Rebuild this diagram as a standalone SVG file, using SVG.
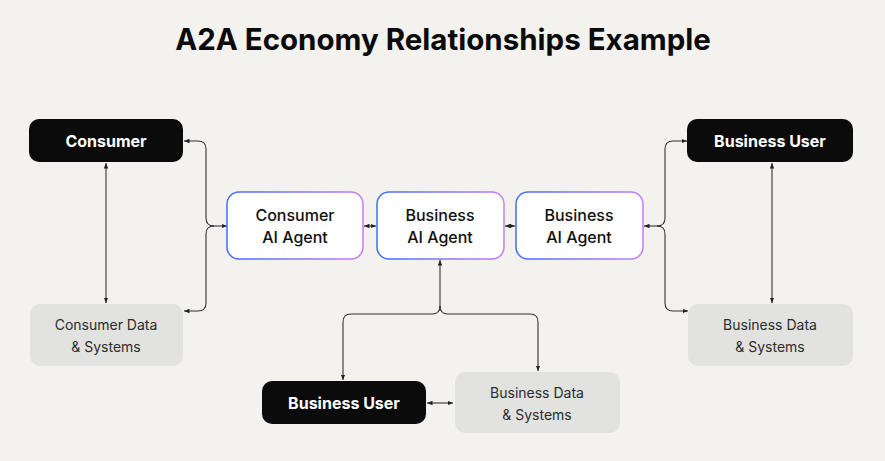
<svg xmlns="http://www.w3.org/2000/svg" width="885" height="461" viewBox="0 0 885 461">
<style>
.bg{fill:#f3f2ef}
.dark rect{fill:#0b0b0b}
.dark text{fill:#fff;font-family:Inter,"Liberation Sans",sans-serif;font-weight:700;font-size:16px;text-anchor:middle}
.agent rect{fill:#fff;stroke:url(#g);stroke-width:1.5}
.agent text{fill:#111;font-family:Inter,"Liberation Sans",sans-serif;font-weight:500;font-size:16px;text-anchor:middle}
.data rect{fill:#e2e2e1}
.data text{fill:#2b2b2b;font-family:Inter,"Liberation Sans",sans-serif;font-size:14px;text-anchor:middle}
.c path{fill:none;stroke:#333;stroke-width:1.1}
.title{font-family:Inter,"Liberation Sans",sans-serif;font-weight:700;font-size:29.5px;text-anchor:middle;fill:#0b0b0b}
</style>
<defs>
<linearGradient id="g" x1="0" y1="0" x2="1" y2="0">
<stop offset="0" stop-color="#3f6ff2"/>
<stop offset="1" stop-color="#c47ff2"/>
</linearGradient>
<marker id="a" viewBox="0 0 10 10" refX="10" refY="5" markerWidth="5" markerHeight="5" orient="auto-start-reverse">
<path d="M0,1 L10,5 L0,9 z" fill="#222"/>
</marker>
</defs>
<rect class="bg" width="885" height="461"/>
<text class="title" x="443" y="50">A2A Economy Relationships Example</text>

<g class="c">
<path d="M214,226 Q206,226 206,218 V149 Q206,141 198,141 H184" marker-end="url(#a)"/>
<path d="M214,226 Q206,226 206,234 V303 Q206,311 198,311 H184" marker-end="url(#a)"/>
<path d="M212,226 H227" marker-end="url(#a)"/>
<path d="M106,163 V303" marker-start="url(#a)" marker-end="url(#a)"/>
<path d="M364,226 H376" marker-start="url(#a)" marker-end="url(#a)"/>
<path d="M505,226 H515" marker-start="url(#a)" marker-end="url(#a)"/>
<path d="M657,226 Q665,226 665,218 V149 Q665,141 673,141 H687" marker-end="url(#a)"/>
<path d="M657,226 Q665,226 665,234 V303 Q665,311 673,311 H688" marker-end="url(#a)"/>
<path d="M659,226 H644" marker-end="url(#a)"/>
<path d="M772,163 V303" marker-start="url(#a)" marker-end="url(#a)"/>
<path d="M440,306 Q440,314 432,314 H351 Q343,314 343,322 V380" marker-end="url(#a)"/>
<path d="M440,306 Q440,314 448,314 H530 Q538,314 538,322 V371" marker-end="url(#a)"/>
<path d="M440,308 V260" marker-end="url(#a)"/>
<path d="M427,403 H453" marker-start="url(#a)" marker-end="url(#a)"/>
</g>

<g id="consumer" class="dark"><rect x="29" y="119" width="154" height="43" rx="10"/><text x="106" y="147">Consumer</text></g>
<g id="consumer-data" class="data"><rect x="30" y="304" width="153" height="62" rx="10"/><text x="106" y="330">Consumer Data</text><text x="106" y="352">&amp; Systems</text></g>
<g id="consumer-agent" class="agent"><rect x="227" y="192" width="136" height="67" rx="12"/><text x="295" y="221">Consumer</text><text x="295" y="243">AI Agent</text></g>
<g id="business-agent-1" class="agent"><rect x="377" y="192" width="127" height="67" rx="12"/><text x="440" y="221">Business</text><text x="440" y="243">AI Agent</text></g>
<g id="business-agent-2" class="agent"><rect x="516" y="192" width="127" height="67" rx="12"/><text x="579" y="221">Business</text><text x="579" y="243">AI Agent</text></g>
<g id="business-user-right" class="dark"><rect x="687" y="119" width="166" height="43" rx="10"/><text x="770" y="147">Business User</text></g>
<g id="business-data-right" class="data"><rect x="688" y="304" width="165" height="62" rx="10"/><text x="770" y="330">Business Data</text><text x="770" y="352">&amp; Systems</text></g>
<g id="business-user-bottom" class="dark"><rect x="262" y="381" width="164" height="43" rx="10"/><text x="344" y="409">Business User</text></g>
<g id="business-data-bottom" class="data"><rect x="455" y="372" width="165" height="61" rx="10"/><text x="537" y="398">Business Data</text><text x="537" y="420">&amp; Systems</text></g>
</svg>
